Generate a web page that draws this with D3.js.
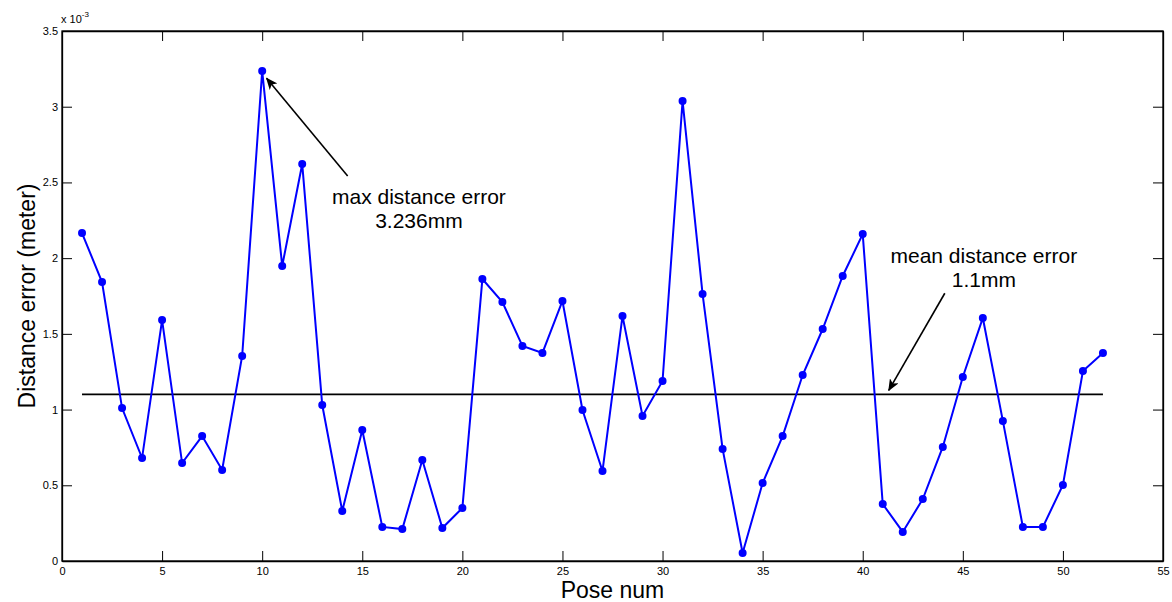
<!DOCTYPE html>
<html>
<head>
<meta charset="utf-8">
<script src="https://cdn.jsdelivr.net/npm/d3@7"></script>
<style>
  body { margin: 0; background: #fff; }
  svg { display: block; font-family: "Liberation Sans", Arial, Helvetica, sans-serif; }
</style>
</head>
<body>
<svg id="chart" width="1172" height="602"></svg>
<script>
// ---- Data ----
const poseNums = d3.range(1, 53);
const distErr = [2.166, 1.842, 1.010, 0.680, 1.591, 0.647, 0.825, 0.601, 1.354, 3.236,
                 1.948, 2.622, 1.030, 0.330, 0.865, 0.225, 0.211, 0.667, 0.218, 0.350,
                 1.862, 1.710, 1.420, 1.374, 1.717, 0.997, 0.594, 1.618, 0.958, 1.189,
                 3.038, 1.763, 0.740, 0.053, 0.515, 0.825, 1.228, 1.532, 1.882, 2.159,
                 0.376, 0.192, 0.409, 0.753, 1.215, 1.605, 0.925, 0.225, 0.225, 0.502,
                 1.255, 1.374]; // x 10^-3 meter
const meanErr = 1.1;
const xTicks = [0, 5, 10, 15, 20, 25, 30, 35, 40, 45, 50, 55];
const yTicks = [0, 0.5, 1, 1.5, 2, 2.5, 3, 3.5];
const maxNote = ["max distance error", "3.236mm"];
const meanNote = ["mean distance error", "1.1mm"];
// annotation anchors in data units [x, y]
const maxArrow = {from: [14.27, 2.542], to: [10.22, 3.188], text: [17.83, 2.357]};
const meanArrow = {from: [44.1, 1.768], to: [41.3, 1.127], text: [46.05, 1.968]};

// ---- Layout ----
const svg = d3.select("#chart");
const L = 62, R = 1163, T = 31, B = 561;
const x = d3.scaleLinear().domain([0, 55]).range([L, R]);
const y = d3.scaleLinear().domain([0, 3.5]).range([B, T]);

// box
svg.append("rect").attr("x", L).attr("y", T).attr("width", R - L).attr("height", B - T)
  .attr("fill", "#fff").attr("stroke", "#000").attr("stroke-width", 1.3);

const tickLen = 10;
const fmt = d => String(d);
// axes
const axB = svg.append("g").attr("transform", `translate(0,${B})`)
  .call(d3.axisBottom(x).tickValues(xTicks).tickFormat(fmt).tickSizeInner(-tickLen).tickSizeOuter(0).tickPadding(6));
const axT = svg.append("g").attr("transform", `translate(0,${T})`)
  .call(d3.axisTop(x).tickValues(xTicks).tickFormat("").tickSizeInner(-tickLen).tickSizeOuter(0));
const axL = svg.append("g").attr("transform", `translate(${L},0)`)
  .call(d3.axisLeft(y).tickValues(yTicks).tickFormat(fmt).tickSizeInner(-tickLen).tickSizeOuter(0).tickPadding(4));
const axR = svg.append("g").attr("transform", `translate(${R},0)`)
  .call(d3.axisRight(y).tickValues(yTicks).tickFormat("").tickSizeInner(-tickLen).tickSizeOuter(0));
[axB, axT, axL, axR].forEach(a => {
  a.select(".domain").attr("stroke", "#000").attr("stroke-width", 1.3);
  a.selectAll(".tick line").attr("stroke", "#000").attr("stroke-width", 1);
  a.selectAll(".tick text").attr("fill", "#000").style("font-size", "11px")
    .style("font-family", '"Liberation Sans", Arial, sans-serif');
});

// exponent label
const ex = svg.append("text").attr("x", L - 1).attr("y", 23).attr("fill", "#000")
  .style("font-size", "11px");
ex.append("tspan").text("x 10");
ex.append("tspan").attr("dy", -6).style("font-size", "8px").text("-3");

// mean line
svg.append("line")
  .attr("x1", x(poseNums[0])).attr("x2", x(poseNums[poseNums.length - 1]))
  .attr("y1", y(meanErr)).attr("y2", y(meanErr))
  .attr("stroke", "#000").attr("stroke-width", 1.8);

// series
const line = d3.line().x((d, i) => x(poseNums[i])).y(d => y(d));
svg.append("path").datum(distErr).attr("d", line)
  .attr("fill", "none").attr("stroke", "#0000ff").attr("stroke-width", 2).attr("stroke-linejoin", "miter");
svg.append("g").selectAll("circle").data(distErr).join("circle")
  .attr("cx", (d, i) => x(poseNums[i])).attr("cy", d => y(d)).attr("r", 4)
  .attr("fill", "#0000ff");

// arrows
svg.append("defs").append("marker").attr("id", "ah")
  .attr("viewBox", "0 0 12 10").attr("refX", 11).attr("refY", 5)
  .attr("markerWidth", 12).attr("markerHeight", 10).attr("markerUnits", "userSpaceOnUse")
  .attr("orient", "auto")
  .append("path").attr("d", "M0,0 L12,5 L0,10 L3,5 Z").attr("fill", "#000");

[maxArrow, meanArrow].forEach(a => {
  svg.append("line")
    .attr("x1", x(a.from[0])).attr("y1", y(a.from[1]))
    .attr("x2", x(a.to[0])).attr("y2", y(a.to[1]))
    .attr("stroke", "#000").attr("stroke-width", 1.6).attr("marker-end", "url(#ah)");
});

function note(lines, pos) {
  const t = svg.append("text").attr("x", x(pos[0])).attr("y", y(pos[1]))
    .attr("text-anchor", "middle").attr("fill", "#000").style("font-size", "21px");
  lines.forEach((s, i) => t.append("tspan").attr("x", x(pos[0])).attr("dy", i === 0 ? 0 : 24).text(s));
}
note(maxNote, maxArrow.text);
note(meanNote, meanArrow.text);

// axis titles
svg.append("text").attr("x", (L + R) / 2).attr("y", 598).attr("text-anchor", "middle")
  .attr("fill", "#000").style("font-size", "23px").text("Pose num");
svg.append("text").attr("transform", `translate(35,${(T + B) / 2}) rotate(-90)`)
  .attr("text-anchor", "middle").attr("fill", "#000").style("font-size", "23px")
  .text("Distance error (meter)");
</script>
</body>
</html>
